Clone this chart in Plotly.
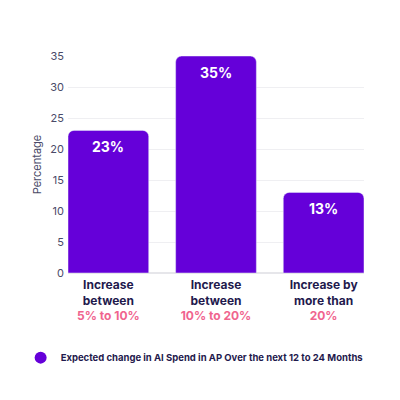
import plotly.graph_objects as go

categories = ["Increase between 5% to 10%", "Increase between 10% to 20%", "Increase by more than 20%"]
label_top = ["Increase<br>between", "Increase<br>between", "Increase by<br>more than"]
label_range = ["5% to 10%", "10% to 20%", "20%"]
values = [23, 35, 13]
series_name = "Expected change in AI Spend in AP Over the next 12 to 24 Months"

bar_color = "#6500D9"
navy = "#1f1a4d"
pink = "#F0648E"

ticktext = [f"<b>{t}<br><span style='color:{pink}'>{r}</span></b>" for t, r in zip(label_top, label_range)]

fig = go.Figure()
fig.add_trace(go.Bar(
    x=categories, y=values, marker=dict(color=bar_color, cornerradius=6),
    showlegend=False, hoverinfo="skip",
))
fig.add_trace(go.Scatter(
    x=[None], y=[None], mode="markers", name=f"<b>{series_name}</b>",
    marker=dict(color=bar_color, size=13, symbol="circle"),
))
for c, v in zip(categories, values):
    fig.add_annotation(x=c, y=v, text=f"<b>{v}%</b>", showarrow=False, yshift=-16,
                       font=dict(color="white", size=14, family="Inter"))

fig.update_layout(
    width=400, height=400,
    margin=dict(l=68, r=36, t=56, b=127),
    paper_bgcolor="white", plot_bgcolor="white",
    font=dict(family="Inter", color=navy),
    bargap=0.25,
    xaxis=dict(tickvals=categories, ticktext=ticktext, tickfont=dict(size=12, color=navy),
               showgrid=False, showline=False, ticks="", range=[-0.375, 2.375],
               ticklabelstandoff=3),
    yaxis=dict(range=[0, 35], dtick=5, showgrid=True, gridcolor="#efeff2", zeroline=True,
               zerolinecolor="#e6e6ea", tickfont=dict(size=11, color="#4a4a68"),
               title=dict(text="Percentage", font=dict(size=11, color="#4a4a68"), standoff=6),
               ticksuffix=" "),
    legend=dict(orientation="h", x=-0.16, xanchor="left", y=-0.39, yanchor="middle",
                font=dict(size=9.5, color=navy), itemsizing="constant"),
)
fig.write_html("out.html")
